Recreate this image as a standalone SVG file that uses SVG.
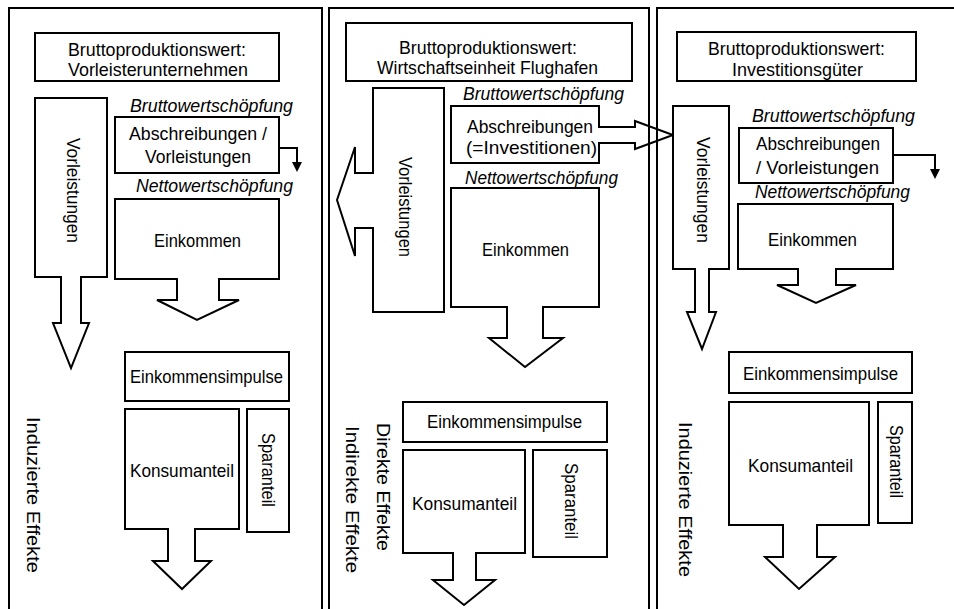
<svg xmlns="http://www.w3.org/2000/svg" width="954" height="609" viewBox="0 0 954 609">
  <style>
    .shape { fill: #ffffff; stroke: #000000; stroke-width: 2; stroke-linejoin: miter; }
    .line { fill: none; stroke: #000000; stroke-width: 2; }
    .head { fill: #000000; stroke: none; }
    .panel { fill: none; stroke: #000000; stroke-width: 2; }
    text { font-family: "Liberation Sans", Arial, sans-serif; font-size: 18.5px; fill: #000000; text-anchor: middle; }
    .it { font-style: italic; }
  </style>

  <rect x="0" y="0" width="954" height="609" fill="#ffffff"/>

  <!-- Column 1: Vorleisterunternehmen -->
  <g id="col1">
    <g id="c1-bpw">
      <rect class="shape" x="35" y="33" width="244" height="48"/>
      <text x="157" y="56" textLength="178" lengthAdjust="spacingAndGlyphs">Bruttoproduktionswert:</text>
      <text x="158" y="76" textLength="180" lengthAdjust="spacingAndGlyphs">Vorleisterunternehmen</text>
    </g>
    <g id="c1-vorleistungen">
      <polygon class="shape" points="35,98 107,98 107,277 81,277 81,323 89,323 71,368 53,323 61,323 61,277 35,277"/>
      <text transform="translate(73,190.5) rotate(90)" x="0" y="6.5" textLength="105" lengthAdjust="spacingAndGlyphs">Vorleistungen</text>
    </g>
    <g id="c1-abschreibungen">
      <text class="it" x="211.5" y="112" textLength="163" lengthAdjust="spacingAndGlyphs">Bruttowertschöpfung</text>
      <rect class="shape" x="115" y="117" width="164" height="56"/>
      <text x="198" y="140" textLength="138" lengthAdjust="spacingAndGlyphs">Abschreibungen /</text>
      <text x="198" y="163" textLength="106" lengthAdjust="spacingAndGlyphs">Vorleistungen</text>
    </g>
    <g id="c1-einkommen">
      <text class="it" x="214.5" y="192" textLength="157" lengthAdjust="spacingAndGlyphs">Nettowertschöpfung</text>
      <polygon class="shape" points="115,199 279,199 279,279 219,279 219,300 239,300 197,320 157,300 177,300 177,279 115,279"/>
      <text x="197.5" y="247" textLength="87" lengthAdjust="spacingAndGlyphs">Einkommen</text>
    </g>
    <g id="c1-impulse">
      <rect class="shape" x="125" y="352" width="164" height="49"/>
      <text x="206.5" y="383" textLength="153" lengthAdjust="spacingAndGlyphs">Einkommensimpulse</text>
    </g>
    <g id="c1-konsum">
      <polygon class="shape" points="125,409 239,409 239,529 195,529 195,561 211,561 182,589 153,561 168,561 168,529 125,529"/>
      <text x="182" y="477" textLength="104" lengthAdjust="spacingAndGlyphs">Konsumanteil</text>
    </g>
    <g id="c1-spar">
      <rect class="shape" x="247" y="409" width="42" height="123"/>
      <text transform="translate(268,470) rotate(90)" x="0" y="6.5" textLength="74" lengthAdjust="spacingAndGlyphs">Sparanteil</text>
    </g>
    <g id="c1-label">
      <text transform="translate(33,495) rotate(90)" x="0" y="6.5" textLength="156" lengthAdjust="spacingAndGlyphs">Induzierte  Effekte</text>
    </g>
  </g>

  <!-- Column 2: Wirtschaftseinheit Flughafen -->
  <g id="col2">
    <g id="c2-bpw">
      <rect class="shape" x="346" y="23" width="286" height="58"/>
      <text x="488" y="54" textLength="178" lengthAdjust="spacingAndGlyphs">Bruttoproduktionswert:</text>
      <text x="487.5" y="74" textLength="221" lengthAdjust="spacingAndGlyphs">Wirtschaftseinheit Flughafen</text>
    </g>
    <g id="c2-vorleistungen">
      <polygon class="shape" points="373,88 444,88 444,312 373,312 373,228 355,228 355,256 337,200 355,147 355,173 373,173"/>
      <text transform="translate(405,207) rotate(90)" x="0" y="6.5" textLength="100" lengthAdjust="spacingAndGlyphs">Vorleistungen</text>
    </g>
    <g id="c2-abschreibungen">
      <text class="it" x="543.5" y="100" textLength="161" lengthAdjust="spacingAndGlyphs">Bruttowertschöpfung</text>
      <polygon class="shape" points="451,106 599,106 599,127 635,127 635,121 673,135 635,149 635,143 599,143 599,163 451,163"/>
      <text x="530" y="133" textLength="126" lengthAdjust="spacingAndGlyphs">Abschreibungen</text>
      <text x="531.5" y="154" textLength="131" lengthAdjust="spacingAndGlyphs">(=Investitionen)</text>
    </g>
    <g id="c2-einkommen">
      <text class="it" x="541.5" y="184" textLength="153" lengthAdjust="spacingAndGlyphs">Nettowertschöpfung</text>
      <polygon class="shape" points="451,188 599,188 599,307 543,307 543,338 563,338 525,367 489,338 507,338 507,307 451,307"/>
      <text x="525.5" y="256" textLength="87" lengthAdjust="spacingAndGlyphs">Einkommen</text>
    </g>
    <g id="c2-impulse">
      <rect class="shape" x="403" y="402" width="204" height="40"/>
      <text x="504.5" y="428" textLength="155" lengthAdjust="spacingAndGlyphs">Einkommensimpulse</text>
    </g>
    <g id="c2-konsum">
      <polygon class="shape" points="403,450 525,450 525,553 476,553 476,580 495,580 464,605 433,580 453,580 453,553 403,553"/>
      <text x="464.5" y="510" textLength="105" lengthAdjust="spacingAndGlyphs">Konsumanteil</text>
    </g>
    <g id="c2-spar">
      <rect class="shape" x="533" y="450" width="74" height="107"/>
      <text transform="translate(571,501) rotate(90)" x="0" y="6.5" textLength="76" lengthAdjust="spacingAndGlyphs">Sparanteil</text>
    </g>
    <g id="c2-label">
      <text transform="translate(383,487) rotate(90)" x="0" y="6.5" textLength="128" lengthAdjust="spacingAndGlyphs">Direkte  Effekte</text>
      <text transform="translate(352,499.5) rotate(90)" x="0" y="6.5" textLength="147" lengthAdjust="spacingAndGlyphs">Indirekte  Effekte</text>
    </g>
  </g>

  <!-- Column 3: Investitionsgüter -->
  <g id="col3">
    <g id="c3-bpw">
      <rect class="shape" x="677" y="32" width="239" height="49"/>
      <text x="796.5" y="55" textLength="177" lengthAdjust="spacingAndGlyphs">Bruttoproduktionswert:</text>
      <text x="797.5" y="75.5" textLength="131" lengthAdjust="spacingAndGlyphs">Investitionsgüter</text>
    </g>
    <g id="c3-vorleistungen">
      <polygon class="shape" points="673,106 729,106 729,269 709,269 709,312 716,312 702,349 687,312 695,312 695,269 673,269"/>
      <text transform="translate(703,190) rotate(90)" x="0" y="6.5" textLength="106" lengthAdjust="spacingAndGlyphs">Vorleistungen</text>
    </g>
    <g id="c3-abschreibungen">
      <text class="it" x="833.5" y="122" textLength="163" lengthAdjust="spacingAndGlyphs">Bruttowertschöpfung</text>
      <rect class="shape" x="739" y="128" width="154" height="55"/>
      <text x="818" y="150" textLength="124" lengthAdjust="spacingAndGlyphs">Abschreibungen</text>
      <text x="817.5" y="174" textLength="123" lengthAdjust="spacingAndGlyphs">/ Vorleistungen</text>
    </g>
    <g id="c3-einkommen">
      <text class="it" x="832.5" y="198" textLength="155" lengthAdjust="spacingAndGlyphs">Nettowertschöpfung</text>
      <polygon class="shape" points="738,204 893,204 893,269 836,269 836,285 856,285 816,303 777,285 798,285 798,269 738,269"/>
      <text x="812.5" y="246" textLength="89" lengthAdjust="spacingAndGlyphs">Einkommen</text>
    </g>
    <g id="c3-impulse">
      <rect class="shape" x="729" y="352" width="183" height="41"/>
      <text x="820.5" y="380" textLength="155" lengthAdjust="spacingAndGlyphs">Einkommensimpulse</text>
    </g>
    <g id="c3-konsum">
      <polygon class="shape" points="729,402 869,402 869,525 817,525 817,557 835,557 799,589 765,557 783,557 783,525 729,525"/>
      <text x="800.5" y="472" textLength="105" lengthAdjust="spacingAndGlyphs">Konsumanteil</text>
    </g>
    <g id="c3-spar">
      <rect class="shape" x="878" y="402" width="34" height="121"/>
      <text transform="translate(896,461.5) rotate(90)" x="0" y="6.5" textLength="73" lengthAdjust="spacingAndGlyphs">Sparanteil</text>
    </g>
    <g id="c3-label">
      <text transform="translate(685,499.5) rotate(90)" x="0" y="6.5" textLength="155" lengthAdjust="spacingAndGlyphs">Induzierte  Effekte</text>
    </g>
  </g>

  <!-- Outflow connectors from the depreciation boxes -->
  <g id="connectors">
    <path class="line" d="M279,148 H297 V163"/>
    <polygon class="head" points="292,162 302,162 297,172"/>
    <path class="line" d="M893,155 H935 V170"/>
    <polygon class="head" points="930,169 940,169 935,179"/>
  </g>

  <!-- Column frames -->
  <g id="frames">
    <path class="panel" d="M9,609 V8 H322 V609"/>
    <path class="panel" d="M329,609 V8 H649 V609"/>
    <path class="panel" d="M657,609 V8 H956"/>
  </g>
</svg>
